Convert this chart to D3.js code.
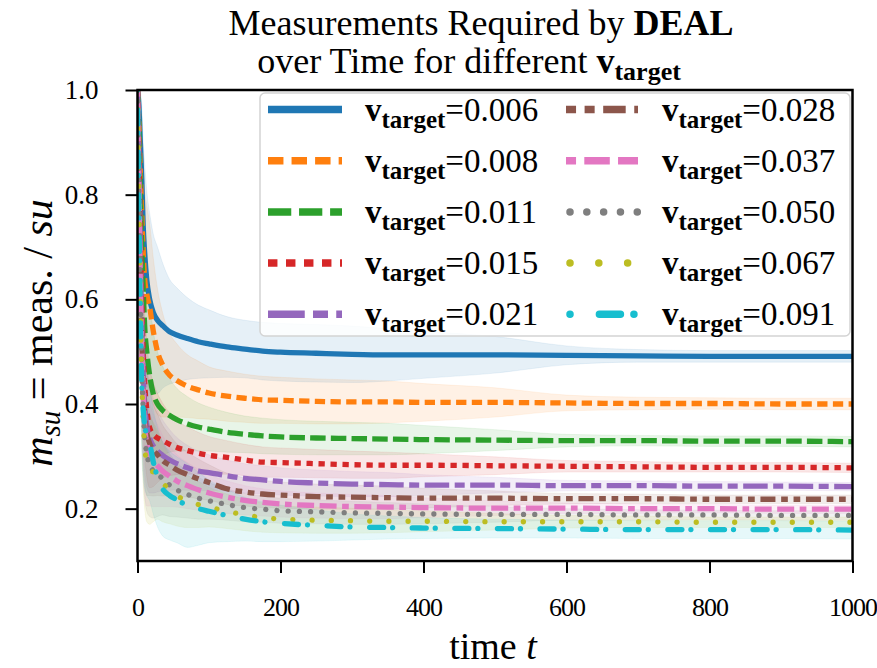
<!DOCTYPE html>
<html>
<head>
<meta charset="utf-8">
<script src="https://cdn.jsdelivr.net/npm/d3@7"></script>
<style>
  html, body { margin: 0; padding: 0; background: #ffffff; }
  svg { display: block; }
  text { font-family: "Liberation Serif", "DejaVu Serif", serif; fill: #000; }
</style>
</head>
<body>
<svg id="chart" width="877" height="668"></svg>
<script>
// ---- data ---------------------------------------------------------------
const timeSteps = [0, 2, 4, 6, 8, 10, 13, 17, 22, 28, 35, 45, 55, 70, 85, 100, 125, 150, 175, 200, 250, 300, 350, 400, 500, 600, 700, 800, 900, 1000];

const targetLabels = ["0.006", "0.008", "0.011", "0.015", "0.021", "0.028", "0.037", "0.050", "0.067", "0.091"];

const mean006 = [1.0, 0.97, 0.90, 0.83, 0.74, 0.69, 0.637, 0.60, 0.575, 0.56, 0.55, 0.538, 0.532, 0.525, 0.519, 0.515, 0.509, 0.505, 0.501, 0.499, 0.497, 0.495, 0.494, 0.494, 0.494, 0.493, 0.492, 0.491, 0.491, 0.491];
const mean008 = [1.0, 0.93, 0.84, 0.76, 0.69, 0.64, 0.61, 0.585, 0.54, 0.50, 0.475, 0.455, 0.445, 0.434, 0.427, 0.421, 0.415, 0.411, 0.408, 0.407, 0.405, 0.404, 0.404, 0.403, 0.403, 0.402, 0.401, 0.401, 0.400, 0.400];
const mean011 = [1.0, 0.92, 0.80, 0.70, 0.62, 0.55, 0.50, 0.455, 0.42, 0.40, 0.388, 0.378, 0.370, 0.362, 0.356, 0.352, 0.346, 0.342, 0.339, 0.337, 0.335, 0.334, 0.333, 0.332, 0.331, 0.330, 0.330, 0.329, 0.329, 0.328];
const mean015 = [1.0, 0.88, 0.72, 0.60, 0.50, 0.44, 0.39, 0.355, 0.342, 0.335, 0.330, 0.323, 0.317, 0.311, 0.306, 0.302, 0.298, 0.293, 0.289, 0.288, 0.286, 0.284, 0.283, 0.283, 0.282, 0.281, 0.280, 0.279, 0.279, 0.278];
const mean021 = [1.0, 0.86, 0.68, 0.55, 0.46, 0.40, 0.36, 0.335, 0.32, 0.31, 0.302, 0.293, 0.286, 0.278, 0.272, 0.269, 0.263, 0.258, 0.255, 0.252, 0.249, 0.247, 0.246, 0.245, 0.245, 0.244, 0.244, 0.243, 0.243, 0.242];
const mean028 = [1.0, 0.84, 0.65, 0.52, 0.43, 0.38, 0.345, 0.325, 0.312, 0.303, 0.292, 0.283, 0.274, 0.265, 0.257, 0.250, 0.238, 0.232, 0.228, 0.226, 0.223, 0.222, 0.221, 0.220, 0.220, 0.219, 0.219, 0.218, 0.218, 0.218];
const mean037 = [1.0, 0.82, 0.63, 0.50, 0.42, 0.36, 0.325, 0.305, 0.292, 0.282, 0.272, 0.262, 0.253, 0.244, 0.236, 0.230, 0.222, 0.216, 0.212, 0.209, 0.206, 0.204, 0.203, 0.202, 0.201, 0.201, 0.200, 0.200, 0.199, 0.199];
const mean050 = [1.0, 0.80, 0.60, 0.47, 0.39, 0.34, 0.305, 0.285, 0.272, 0.265, 0.258, 0.245, 0.236, 0.227, 0.220, 0.215, 0.208, 0.202, 0.199, 0.196, 0.194, 0.192, 0.191, 0.190, 0.189, 0.189, 0.188, 0.188, 0.187, 0.187];
const mean067 = [1.0, 0.78, 0.58, 0.45, 0.37, 0.32, 0.29, 0.275, 0.27, 0.265, 0.25, 0.236, 0.225, 0.214, 0.208, 0.203, 0.195, 0.188, 0.183, 0.180, 0.178, 0.177, 0.176, 0.176, 0.175, 0.175, 0.175, 0.174, 0.174, 0.174];
const mean091 = [1.0, 0.76, 0.56, 0.44, 0.39, 0.36, 0.34, 0.325, 0.29, 0.26, 0.238, 0.225, 0.217, 0.206, 0.200, 0.195, 0.187, 0.180, 0.175, 0.172, 0.168, 0.165, 0.164, 0.163, 0.162, 0.161, 0.160, 0.160, 0.160, 0.159];

const sd006 = [0, 0.05, 0.10, 0.14, 0.16, 0.17, 0.17, 0.165, 0.15, 0.14, 0.12, 0.10, 0.09, 0.078, 0.07, 0.065, 0.058, 0.055, 0.055, 0.055, 0.055, 0.054, 0.05, 0.045, 0.035, 0.018, 0.012, 0.011, 0.011, 0.011];
const sd008 = [0, 0.06, 0.11, 0.15, 0.17, 0.17, 0.17, 0.16, 0.14, 0.12, 0.10, 0.08, 0.07, 0.06, 0.055, 0.05, 0.048, 0.046, 0.045, 0.044, 0.043, 0.042, 0.04, 0.036, 0.028, 0.015, 0.012, 0.011, 0.011, 0.011];
const sd011 = [0, 0.06, 0.12, 0.15, 0.16, 0.16, 0.15, 0.14, 0.12, 0.10, 0.085, 0.07, 0.06, 0.052, 0.046, 0.042, 0.038, 0.035, 0.034, 0.033, 0.032, 0.031, 0.03, 0.027, 0.02, 0.012, 0.01, 0.01, 0.01, 0.01];
const sd015 = [0, 0.06, 0.12, 0.15, 0.15, 0.14, 0.13, 0.115, 0.10, 0.085, 0.072, 0.06, 0.052, 0.045, 0.04, 0.036, 0.032, 0.03, 0.029, 0.028, 0.027, 0.026, 0.025, 0.022, 0.017, 0.011, 0.01, 0.009, 0.009, 0.009];
const sd021 = [0, 0.06, 0.12, 0.14, 0.14, 0.13, 0.12, 0.105, 0.09, 0.078, 0.068, 0.058, 0.05, 0.043, 0.038, 0.034, 0.03, 0.028, 0.027, 0.026, 0.025, 0.024, 0.023, 0.02, 0.015, 0.01, 0.009, 0.009, 0.008, 0.008];
const sd028 = [0, 0.06, 0.12, 0.14, 0.14, 0.13, 0.12, 0.10, 0.088, 0.078, 0.068, 0.058, 0.05, 0.043, 0.038, 0.034, 0.03, 0.027, 0.026, 0.025, 0.024, 0.023, 0.022, 0.019, 0.014, 0.01, 0.009, 0.008, 0.008, 0.008];
const sd037 = [0, 0.06, 0.12, 0.14, 0.14, 0.13, 0.12, 0.10, 0.088, 0.078, 0.068, 0.058, 0.05, 0.044, 0.039, 0.035, 0.031, 0.028, 0.026, 0.025, 0.024, 0.023, 0.022, 0.019, 0.014, 0.01, 0.009, 0.008, 0.008, 0.008];
const sd050 = [0, 0.06, 0.12, 0.13, 0.13, 0.12, 0.11, 0.10, 0.09, 0.08, 0.07, 0.06, 0.052, 0.045, 0.04, 0.035, 0.03, 0.027, 0.025, 0.024, 0.023, 0.022, 0.021, 0.019, 0.015, 0.011, 0.01, 0.009, 0.009, 0.009];
const sd067 = [0, 0.06, 0.12, 0.13, 0.13, 0.12, 0.115, 0.105, 0.095, 0.085, 0.075, 0.065, 0.058, 0.05, 0.044, 0.038, 0.033, 0.03, 0.028, 0.026, 0.025, 0.024, 0.022, 0.02, 0.016, 0.012, 0.011, 0.01, 0.01, 0.01];
const sd091 = [0, 0.06, 0.12, 0.13, 0.13, 0.12, 0.115, 0.11, 0.10, 0.095, 0.09, 0.085, 0.082, 0.08, 0.07, 0.06, 0.05, 0.042, 0.038, 0.035, 0.03, 0.025, 0.022, 0.02, 0.018, 0.017, 0.017, 0.017, 0.017, 0.017];

const xTicks = [0, 200, 400, 600, 800, 1000];
const yTicks = [0.2, 0.4, 0.6, 0.8, 1.0];

// ---- styling ------------------------------------------------------------
const palette = ["#1f77b4", "#ff7f0e", "#2ca02c", "#d62728", "#9467bd",
                 "#8c564b", "#e377c2", "#7f7f7f", "#bcbd22", "#17becf"];
// dash patterns in px for the plotted lines (legend handles are drawn thicker and scaled up)
const lineStyles = [
  { dash: null,                         cap: "butt"  },
  { dash: [10.3, 5.4],                  cap: "butt"  },
  { dash: [15.5, 5.2],                  cap: "butt"  },
  { dash: [6.3, 5.7],                   cap: "butt"  },
  { dash: [24.5, 5.5, 10, 5.5],         cap: "butt"  },
  { dash: [6.7, 5.7, 6.7, 5.7, 15, 5.7],cap: "butt"  },
  { dash: [6.7, 5.5, 17, 5.5, 17, 5.5], cap: "butt"  },
  { dash: [0.01, 11.2],                 cap: "round" },
  { dash: [0.01, 19.2],                 cap: "round" },
  { dash: [0.01, 19.6, 14, 9],          cap: "round" }
];
const lineWidth = 5.3;
const legendLineWidth = 7.5;
const legendDashScale = 1.5;

const meanSeries = [mean006, mean008, mean011, mean015, mean021, mean028, mean037, mean050, mean067, mean091];
const sdSeries = [sd006, sd008, sd011, sd015, sd021, sd028, sd037, sd050, sd067, sd091];

const series = targetLabels.map((label, i) => ({
  label,
  color: palette[i],
  style: lineStyles[i],
  points: timeSteps.map((t, k) => ({ t, m: meanSeries[i][k], s: sdSeries[i][k] }))
}));

// ---- layout -------------------------------------------------------------
const plot = { left: 137.5, right: 852.5, top: 90, bottom: 561 };
const serif = '"Liberation Serif", "DejaVu Serif", serif';
const svg = d3.select("#chart");

const x = d3.scaleLinear().domain([0, 1000]).range([plot.left, plot.right]);
const y = d3.scaleLinear().domain([0.1, 1.0]).range([plot.bottom, plot.top]);

svg.append("defs").append("clipPath").attr("id", "plot-clip")
  .append("rect")
  .attr("x", plot.left).attr("y", plot.top)
  .attr("width", plot.right - plot.left).attr("height", plot.bottom - plot.top);

const plotLayer = svg.append("g").attr("clip-path", "url(#plot-clip)");

const band = d3.area()
  .x(d => x(d.t))
  .y0(d => y(d.m - d.s))
  .y1(d => y(d.m + d.s))
  .curve(d3.curveMonotoneX);

const line = d3.line()
  .x(d => x(d.t))
  .y(d => y(d.m))
  .curve(d3.curveMonotoneX);

series.forEach(s => {
  plotLayer.append("path")
    .datum(s.points)
    .attr("d", band)
    .attr("fill", s.color)
    .attr("fill-opacity", 0.11)
    .attr("stroke", s.color)
    .attr("stroke-opacity", 0.08)
    .attr("stroke-width", 1);
});

series.forEach(s => {
  plotLayer.append("path")
    .datum(s.points)
    .attr("d", line)
    .attr("fill", "none")
    .attr("stroke", s.color)
    .attr("stroke-width", lineWidth)
    .attr("stroke-linecap", s.style.cap)
    .attr("stroke-linejoin", "round")
    .attr("stroke-dasharray", s.style.dash ? s.style.dash.join(",") : null);
});

// ---- axes ---------------------------------------------------------------
const xAxis = d3.axisBottom(x)
  .tickValues(xTicks)
  .tickFormat(d3.format("d"))
  .tickSize(12)
  .tickPadding(25);

const yAxis = d3.axisLeft(y)
  .tickValues(yTicks)
  .tickFormat(d3.format(".1f"))
  .tickSize(12)
  .tickPadding(27);

const gx = svg.append("g").attr("transform", `translate(0,${plot.bottom})`).call(xAxis);
const gy = svg.append("g").attr("transform", `translate(${plot.left},0)`).call(yAxis);

[gx, gy].forEach(g => {
  g.attr("font-family", serif).attr("font-size", 27);
  g.select(".domain").remove();
  g.selectAll(".tick line").attr("stroke", "#000").attr("stroke-width", 2);
  g.selectAll(".tick text")
    .attr("fill", "#000")
    .style("font-family", serif)
    .style("font-size", "27px");
});
// x tick labels set a little tighter so "1000" stays inside the canvas
gx.selectAll(".tick text").style("font-size", "26px").style("letter-spacing", "-1px");

// frame
svg.append("rect")
  .attr("x", plot.left).attr("y", plot.top)
  .attr("width", plot.right - plot.left).attr("height", plot.bottom - plot.top)
  .attr("fill", "none").attr("stroke", "#000").attr("stroke-width", 2.5);

// ---- legend -------------------------------------------------------------
const legend = svg.append("g");
legend.append("rect")
  .attr("x", 260).attr("y", 93)
  .attr("width", 590).attr("height", 243)
  .attr("rx", 5).attr("ry", 5)
  .attr("fill", "#ffffff").attr("fill-opacity", 0.82)
  .attr("stroke", "#d4d4d4").attr("stroke-width", 1.5);

const legendCols = [{ x0: 268, x1: 342, tx: 365 }, { x0: 566, x1: 638, tx: 662 }];
const legendRowY = d => 109.5 + d * 51.2;

series.forEach((s, i) => {
  const col = legendCols[Math.floor(i / 5)];
  const ly = legendRowY(i % 5);
  const round = s.style.cap === "round";
  legend.append("line")
    .attr("x1", col.x0 + (round ? 4 : 0)).attr("x2", col.x1)
    .attr("y1", ly).attr("y2", ly)
    .attr("stroke", s.color)
    .attr("stroke-width", legendLineWidth)
    .attr("stroke-linecap", s.style.cap)
    .attr("stroke-dasharray", s.style.dash ? s.style.dash.map(v => v * legendDashScale).join(",") : null);

  const t = legend.append("text")
    .attr("x", col.tx).attr("y", ly + 11)
    .style("font-size", "33px");
  t.append("tspan").attr("font-weight", "bold").text("v");
  t.append("tspan").attr("font-weight", "bold").attr("dy", 7).style("font-size", "25px").text("target");
  t.append("tspan").attr("dy", -7).text("=" + s.label);
});

// ---- titles -------------------------------------------------------------
const title1 = svg.append("text")
  .attr("x", 481).attr("y", 35)
  .attr("text-anchor", "middle")
  .style("font-size", "36px");
title1.append("tspan").text("Measurements Required by ");
title1.append("tspan").attr("font-weight", "bold").text("DEAL");

const title2 = svg.append("text")
  .attr("x", 469).attr("y", 73)
  .attr("text-anchor", "middle")
  .style("font-size", "36px");
title2.append("tspan").text("over Time for different ");
title2.append("tspan").attr("font-weight", "bold").text("v");
title2.append("tspan").attr("font-weight", "bold").attr("dy", 7).style("font-size", "26px").text("target");

// x label
const xl = svg.append("text")
  .attr("x", (plot.left + plot.right) / 2 - 2).attr("y", 659)
  .attr("text-anchor", "middle")
  .style("font-size", "38px");
xl.append("tspan").text("time ");
xl.append("tspan").attr("font-style", "italic").text("t");

// y label
const yl = svg.append("text")
  .attr("transform", "translate(52,333) rotate(-90)")
  .attr("text-anchor", "middle")
  .style("font-size", "42px");
yl.append("tspan").attr("font-style", "italic").text("m");
yl.append("tspan").attr("font-style", "italic").attr("dy", 8).style("font-size", "29px").text("su");
yl.append("tspan").attr("dy", -8).text(" = meas. / ");
yl.append("tspan").attr("font-style", "italic").text("su");
</script>
</body>
</html>
